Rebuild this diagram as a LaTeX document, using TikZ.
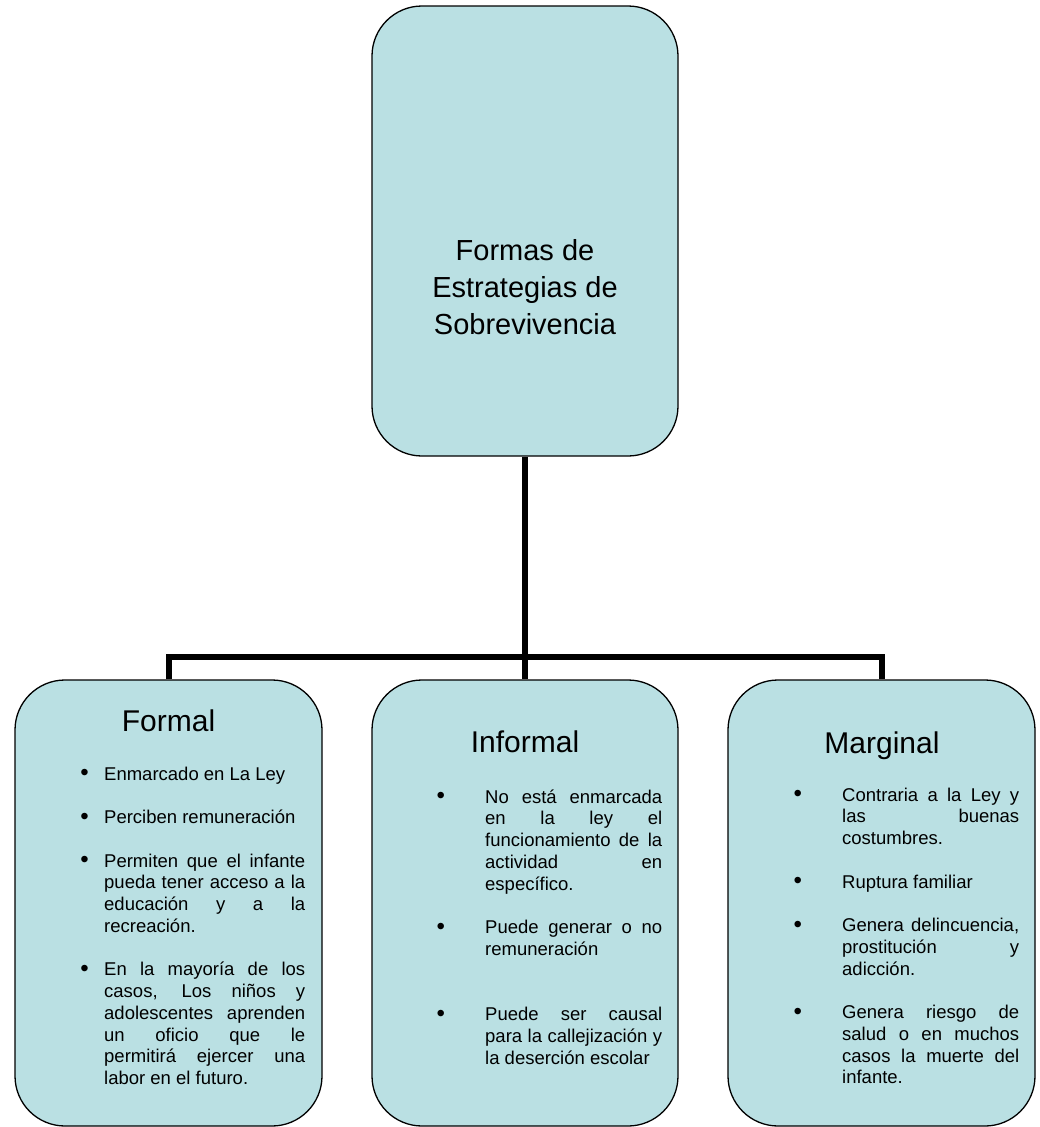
\documentclass[tikz,border=0pt]{standalone}
\usepackage{fontspec}
\setmainfont{Liberation Sans}
\definecolor{boxfill}{RGB}{186,224,227}
\newcommand\bitem[2]{\noindent\llap{\makebox[0pt][c]{\raisebox{-0.5pt}{\scalebox{1.3}{\textbullet}}}\hspace{#1}}#2\par}
\newcommand\listsetup[1]{\hsize=#1\relax\parindent=0pt\parskip=0pt\fontsize{18.5}{21.75}\selectfont\tolerance=10000\hyphenpenalty=10000\exhyphenpenalty=10000\relax}
\tikzset{
  box/.style={draw=black, line width=1.3pt, fill=boxfill, rounded corners=50pt, inner sep=0pt},
  conn/.style={draw=black, line width=6pt, line join=miter},
  title/.style={inner sep=0pt, anchor=base, font=\fontsize{30}{36}\selectfont},
  blist/.style={inner sep=0pt, anchor=base west}
}
\begin{document}
\begin{tikzpicture}[x=1pt,y=-1pt]
\useasboundingbox (0,0) rectangle (1040,1127);
% boxes
\node[box, minimum width=306pt, minimum height=450pt] (top) at (525,231) {};
\node[box, minimum width=307pt, minimum height=446pt] (formal) at (168.5,903) {};
\node[box, minimum width=306pt, minimum height=446pt] (informal) at (525,903) {};
\node[box, minimum width=307pt, minimum height=446pt] (marginal) at (881.5,903) {};
% connectors
\coordinate (j) at (525,657);
\draw[conn] (top.south) -- (informal.north);
\draw[conn] (formal.north) -- (formal.north |- j) -- (marginal.north |- j) -- (marginal.north);
% top text
\node[inner sep=0pt, anchor=base] (tt) at (525,260) {\vtop{\hsize=320pt\parindent=0pt\parskip=0pt\centering\fontsize{29}{37}\selectfont Formas de\\Estrategias de\\Sobrevivencia\par}};
% titles
\node[title] (ft) at (168.5,731) {Formal};
\node[title] (it) at (525,752) {Informal};
\node[title] (mt) at (882,753) {Marginal};
% lists
\node[blist] (fl) at (104,780) {\vtop{\listsetup{201pt}%
\bitem{19.5pt}{Enmarcado en La Ley}\vskip21.75pt
\bitem{19.5pt}{Perciben remuneración}\vskip21.75pt
\bitem{19.5pt}{Permiten que el infante\linebreak pueda tener acceso a la\linebreak educación y a la\linebreak recreación.}\vskip21.75pt
\bitem{19.5pt}{En la mayoría de los\linebreak casos, Los niños y\linebreak adolescentes aprenden\linebreak un oficio que le\linebreak permitirá ejercer una\linebreak labor en el futuro.}}};
\node[blist] (il) at (485,803) {\vtop{\listsetup{177pt}%
\bitem{44.3pt}{No está enmarcada\linebreak en la ley el\linebreak funcionamiento de la\linebreak actividad en\linebreak específico.}\vskip21.75pt
\bitem{44.3pt}{Puede generar o no\linebreak remuneración}\vskip43.5pt
\bitem{44.3pt}{Puede ser causal\linebreak para la callejización y\linebreak la deserción escolar}}};
\node[blist] (ml) at (842,801) {\vtop{\listsetup{177pt}%
\bitem{44.3pt}{Contraria a la Ley y\linebreak las buenas\linebreak costumbres.}\vskip21.75pt
\bitem{44.3pt}{Ruptura familiar}\vskip21.75pt
\bitem{44.3pt}{Genera delincuencia,\linebreak prostitución y\linebreak adicción.}\vskip21.75pt
\bitem{44.3pt}{Genera riesgo de\linebreak salud o en muchos\linebreak casos la muerte del\linebreak infante.}}};
\end{tikzpicture}
\end{document}
